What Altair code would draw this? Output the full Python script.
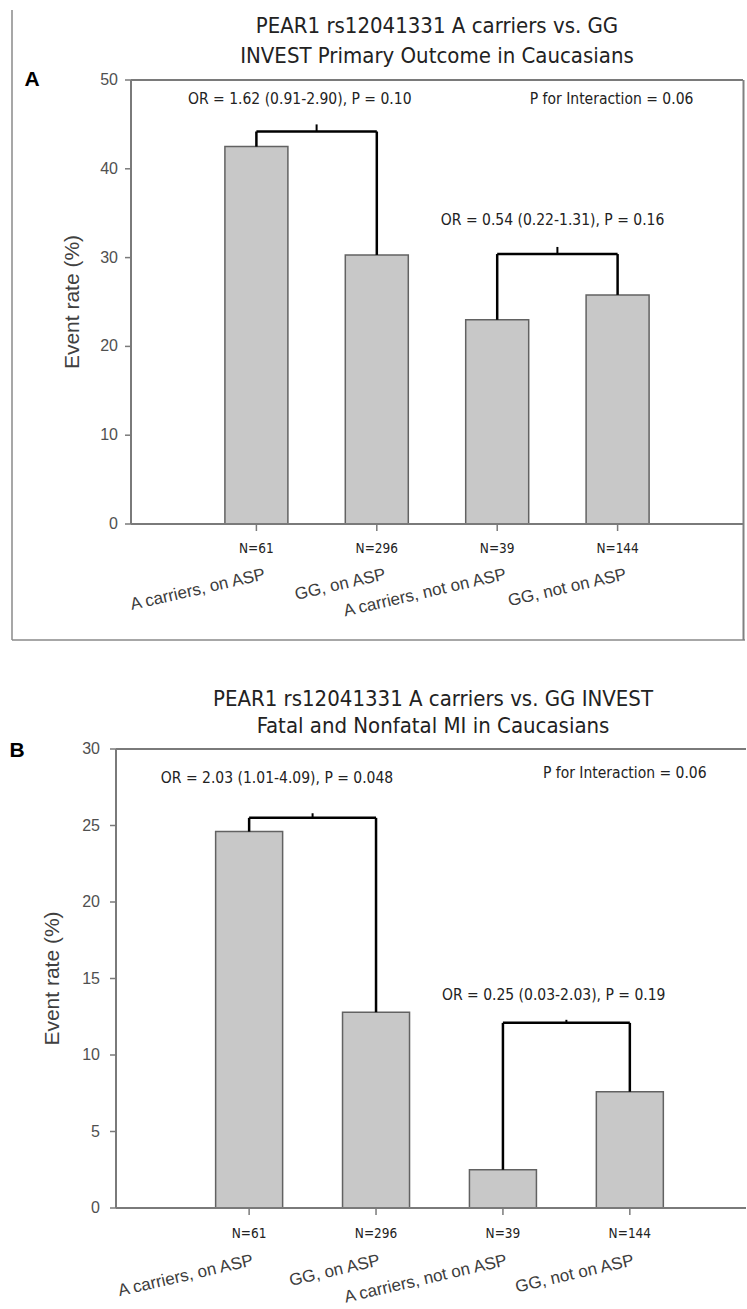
import altair as alt
import pandas as pd

# ---------------- data ----------------
categories = ["A carriers, on ASP", "GG, on ASP", "A carriers, not on ASP", "GG, not on ASP"]
n_labels = ["N=61", "N=296", "N=39", "N=144"]
positions = [1, 2, 3, 4]
rates_a = [42.5, 30.3, 23.0, 25.8]
rates_b = [24.6, 12.8, 2.5, 7.6]

bracket_left = [1, 3]
bracket_right = [2, 4]
bracket_level_a = [44.2, 30.4]
bracket_tick_a = [45.0, 31.2]
bracket_level_b = [25.5, 12.1]
bracket_tick_b = [25.8, 12.3]

or_text_a = ["OR = 1.62 (0.91-2.90), P = 0.10", "OR = 0.54 (0.22-1.31), P = 0.16"]
or_x_a = [1.36, 3.46]
or_y_a = [47.9, 34.2]
or_text_b = ["OR = 2.03 (1.01-4.09), P = 0.048", "OR = 0.25 (0.03-2.03), P = 0.19"]
or_x_b = [1.22, 3.40]
or_y_b = [28.1, 13.9]
interaction_text = "P for Interaction = 0.06"
interaction_a = (3.95, 47.9)
interaction_b = (3.96, 28.4)

title_a = ["PEAR1 rs12041331 A carriers vs. GG", "INVEST Primary Outcome in Caucasians"]
title_b = ["PEAR1 rs12041331 A carriers vs. GG INVEST", "Fatal and Nonfatal MI in Caucasians"]
y_title = "Event rate (%)"
y_ticks_a = [0, 10, 20, 30, 40, 50]
y_ticks_b = [0, 5, 10, 15, 20, 25, 30]

SANS = "Liberation Sans"
COND = "DejaVu Sans Condensed, Liberation Sans Narrow, DejaVu Sans"
AXIS_GRAY = "#7a7a7a"
LABEL_GRAY = "#505050"


def panel(rates, lvl, tick, or_text, or_x, or_y, inter, titles, letter,
          y_max, y_ticks, x_domain, width, height, axis_shift, label_gap, ytitle_x,
          bar_w, n_y, lab_y, lab_dx, title_cx, title_ys, letter_xy, extras):
    bars = pd.DataFrame({"pos": positions, "rate": rates, "cat": categories, "n": n_labels})
    br = pd.DataFrame({
        "l": bracket_left, "r": bracket_right, "level": lvl, "tick": tick,
        "ltop": [rates[i - 1] for i in bracket_left],
        "rtop": [rates[i - 1] for i in bracket_right],
    })
    ticks = pd.DataFrame({"v": y_ticks, "lab": [str(v) for v in y_ticks]})
    ann = pd.DataFrame({"t": or_text, "x": or_x, "y": or_y})
    inter_df = pd.DataFrame({"t": [interaction_text], "x": [inter[0]], "y": [inter[1]]})
    edge = pd.DataFrame({"y0": [0], "y1": [y_max]})

    xs = alt.Scale(domain=x_domain, nice=False, zero=False)
    ys = alt.Scale(domain=[0, y_max], nice=False)
    Y = lambda f: alt.Y(f, type="quantitative", scale=ys, axis=None)
    X = lambda f: alt.X(f, type="quantitative", scale=xs, axis=None)

    bar_layer = alt.Chart(bars).mark_bar(size=bar_w, fill="#c8c8c8", stroke="#626262",
                                         strokeWidth=1.5).encode(x=X("pos"), y=Y("rate"))

    # ---- axes (domain line, ticks, tick labels, title) drawn from the tick values ----
    gray_rule = dict(color=AXIS_GRAY, strokeWidth=2)
    y_domain = alt.Chart(edge).mark_rule(**gray_rule).encode(
        x=alt.value(-axis_shift), y=Y("y0"), y2="y1")
    y_tick_marks = alt.Chart(ticks).mark_rule(color=AXIS_GRAY, strokeWidth=1.5).encode(
        x=alt.value(-axis_shift - 6), x2=alt.value(-axis_shift), y=Y("v"))
    y_tick_labels = alt.Chart(ticks).mark_text(
        font=SANS, fontSize=16, color=LABEL_GRAY, align="right", baseline="middle").encode(
        x=alt.value(-axis_shift - 6 - label_gap), y=Y("v"), text="lab")
    y_title_layer = alt.Chart(pd.DataFrame({"t": [y_title]})).mark_text(
        font=SANS, fontSize=21, color="#404040", angle=270, align="center",
        baseline="middle").encode(x=alt.value(ytitle_x), y=alt.value(height / 2), text="t")
    x_tick_marks = alt.Chart(bars).mark_rule(color=AXIS_GRAY, strokeWidth=1.5).encode(
        x=X("pos"), y=alt.value(height), y2=alt.value(height + 7))

    bottom_line = alt.Chart(edge).mark_rule(**gray_rule).encode(
        x=alt.value(-axis_shift), x2=alt.value(width), y=Y("y0"))
    top_line = alt.Chart(edge).mark_rule(**gray_rule).encode(
        x=alt.value(-axis_shift), x2=alt.value(width), y=Y("y1"))

    rule = dict(color="black", strokeWidth=2.5)
    leg_l = alt.Chart(br).mark_rule(**rule).encode(x=X("l"), y=Y("ltop"), y2="level")
    leg_r = alt.Chart(br).mark_rule(**rule).encode(x=X("r"), y=Y("rtop"), y2="level")
    horiz = alt.Chart(br).mark_rule(**rule).encode(x=X("l"), x2="r", y=Y("level"))
    mid = alt.Chart(br).transform_calculate(m="(datum.l + datum.r) / 2").mark_rule(
        color="black", strokeWidth=2).encode(x=X("m"), y=Y("level"), y2="tick")

    ann_layer = alt.Chart(ann).mark_text(font=COND, fontSize=15.5, color="#222222").encode(
        x=X("x"), y=Y("y"), text="t")
    inter_layer = alt.Chart(inter_df).mark_text(font=COND, fontSize=15.5, color="#222222").encode(
        x=X("x"), y=Y("y"), text="t")

    n_layer = alt.Chart(bars).mark_text(font=COND, fontSize=13.5, color="#222222").encode(
        x=X("pos"), y=alt.value(n_y), text="n")
    cat_layer = alt.Chart(bars).mark_text(font=SANS, fontSize=17, color="#3c3c3c", angle=347,
                                          align="right", baseline="top", dx=lab_dx).encode(
        x=X("pos"), y=alt.value(lab_y), text="cat")

    t1 = alt.Chart(pd.DataFrame({"t": [titles[0]]})).mark_text(
        font=COND, fontSize=22, color="#222222").encode(
        x=alt.value(title_cx), y=alt.value(title_ys[0]), text="t")
    t2 = alt.Chart(pd.DataFrame({"t": [titles[1]]})).mark_text(
        font=COND, fontSize=22, color="#222222").encode(
        x=alt.value(title_cx), y=alt.value(title_ys[1]), text="t")
    letter_layer = alt.Chart(pd.DataFrame({"t": [letter]})).mark_text(
        font=SANS, fontSize=21, fontWeight="bold", color="black").encode(
        x=alt.value(letter_xy[0]), y=alt.value(letter_xy[1]), text="t")

    layers = [bar_layer, bottom_line, top_line, y_domain, y_tick_marks, y_tick_labels,
              y_title_layer, x_tick_marks, leg_l, leg_r, horiz, mid,
              ann_layer, inter_layer, n_layer, cat_layer, t1, t2, letter_layer] + extras
    return alt.layer(*layers).properties(width=width, height=height)


frame_df = pd.DataFrame({"k": [0]})
frame_a = [
    alt.Chart(frame_df).mark_rule(color="white", strokeWidth=1).encode(
        x=alt.value(-130.5), y=alt.value(-79), y2=alt.value(-76)),
    alt.Chart(frame_df).mark_rule(color="#8a8a8a", strokeWidth=1.5).encode(
        x=alt.value(-119), y=alt.value(-70), y2=alt.value(560)),
    alt.Chart(frame_df).mark_rule(color="#8a8a8a", strokeWidth=1.5).encode(
        x=alt.value(-119), x2=alt.value(614), y=alt.value(560)),
    alt.Chart(frame_df).mark_rule(color="#808080", strokeWidth=2).encode(
        x=alt.value(612.5), y=alt.value(0), y2=alt.value(560)),
]

panel_a = panel(rates_a, bracket_level_a, bracket_tick_a, or_text_a, or_x_a, or_y_a,
                interaction_a, title_a, "A", 50, y_ticks_a, [0, 5], 612, 444,
                0, 7, -58, 63, 469, 488, 7, 306, [-54, -24], (-99, 0), frame_a)
panel_b = panel(rates_b, bracket_level_b, bracket_tick_b, or_text_b, or_x_b, or_y_b,
                interaction_b, title_b, "B", 30, y_ticks_b, [0.1085, 4.876], 615, 459,
                15, 10, -78, 67, 485, 504, 2, 302, [-50, -23], (-114, 2), [])

chart = alt.vconcat(panel_a, panel_b, spacing=225, bounds="flush").properties(
    padding=0
).configure_view(stroke=None)

chart.save("out.html", embed_options={"renderer": "svg", "actions": False})
